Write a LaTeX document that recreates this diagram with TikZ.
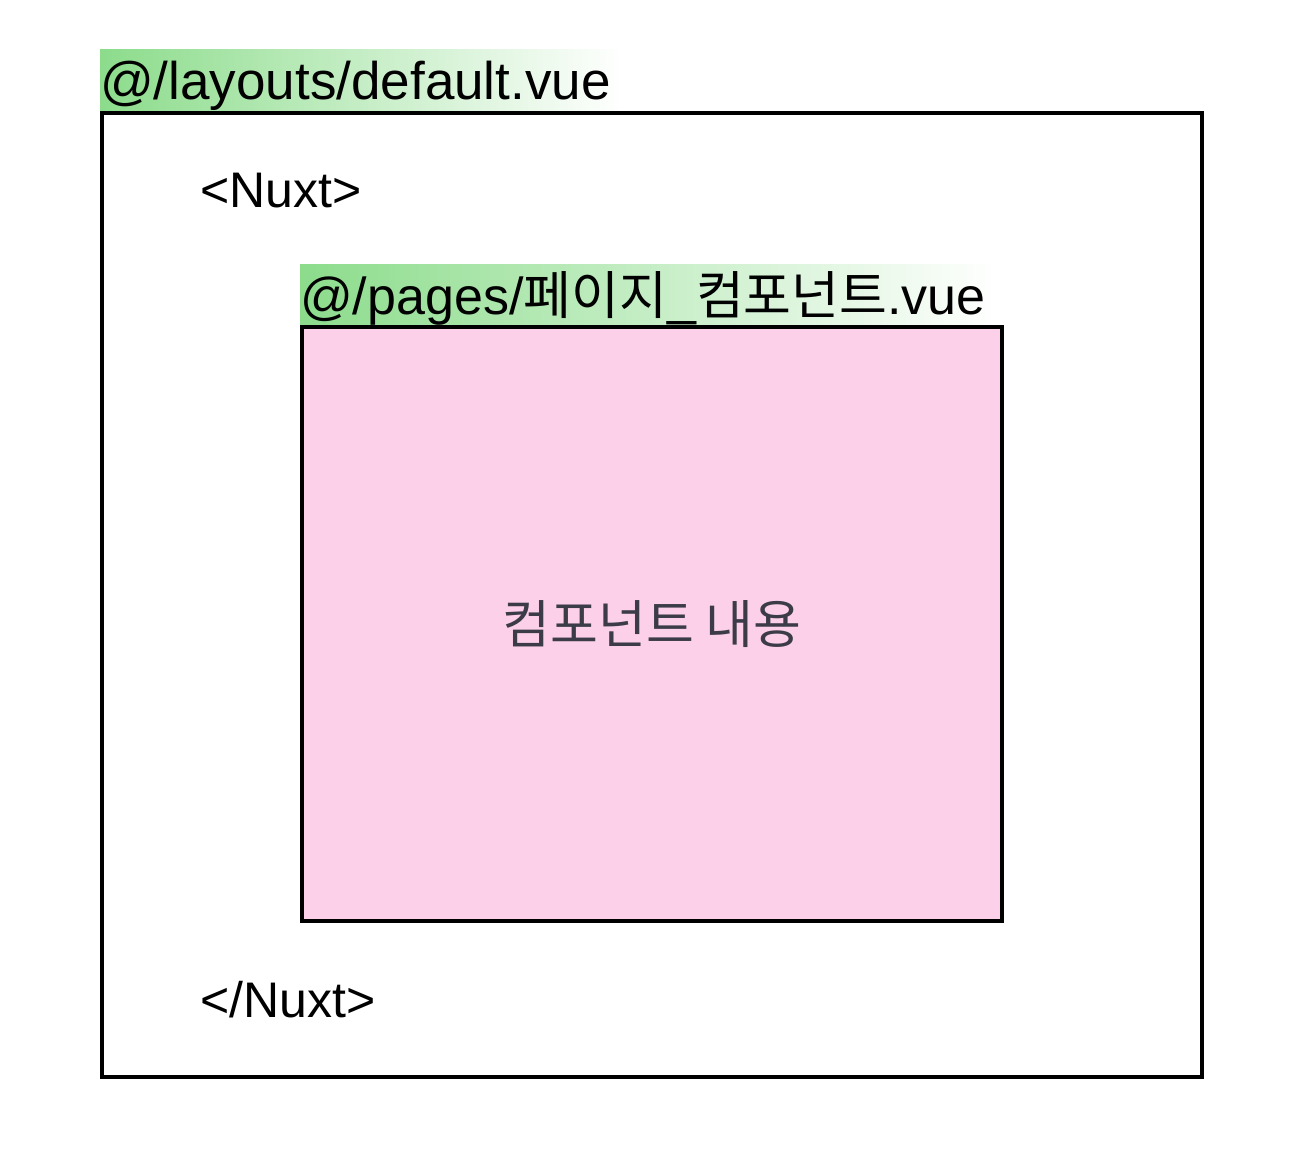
\documentclass[tikz,border=0pt]{standalone}
\usepackage{fontspec}
\setmainfont{Liberation Sans}
\newfontfamily\kr{Noto Sans CJK KR}
\definecolor{lgreen}{RGB}{140,220,140}
\definecolor{pinkfill}{RGB}{253,208,233}
\definecolor{darktext}{RGB}{60,60,72}
\tikzset{
  boxline/.style={draw=black, line width=4pt},
  labelbg/.style={draw=none, left color=lgreen, right color=white},
  labeltext/.style={anchor=base west, inner sep=0pt, font=\fontsize{52}{56}\selectfont},
}
\begin{document}
\begin{tikzpicture}[x=1pt,y=-1pt]
\useasboundingbox (0,0) rectangle (1305,1155);
% outer label
\shade[labelbg] (100,50) rectangle (625,112);
\node[labeltext, font=\fontsize{53}{56}\selectfont] (outerlbl) at (100,100) {@/layouts/default.vue};
% outer box
\draw[boxline] (102,113) rectangle (1202,1077);
\node[labeltext, font=\fontsize{50}{54}\selectfont] (nuxtopen) at (200,208) {<Nuxt>};
\node[labeltext, font=\fontsize{50}{54}\selectfont] (nuxtclose) at (200,1017) {</Nuxt>};
% inner label
\shade[labelbg] (300,265) rectangle (1000,326);
\node[labeltext] (innerlbl) at (300,314) {@/pages/{\kr 페이지}\_{\kr 컴포넌트}.vue};
% inner box
\draw[boxline, fill=pinkfill] (302,327) rectangle (1002,921);
\node[inner sep=0pt, text=darktext, font=\kr\fontsize{52}{56}\selectfont] (content) at (652,624) {컴포넌트 내용};
\end{tikzpicture}
\end{document}
